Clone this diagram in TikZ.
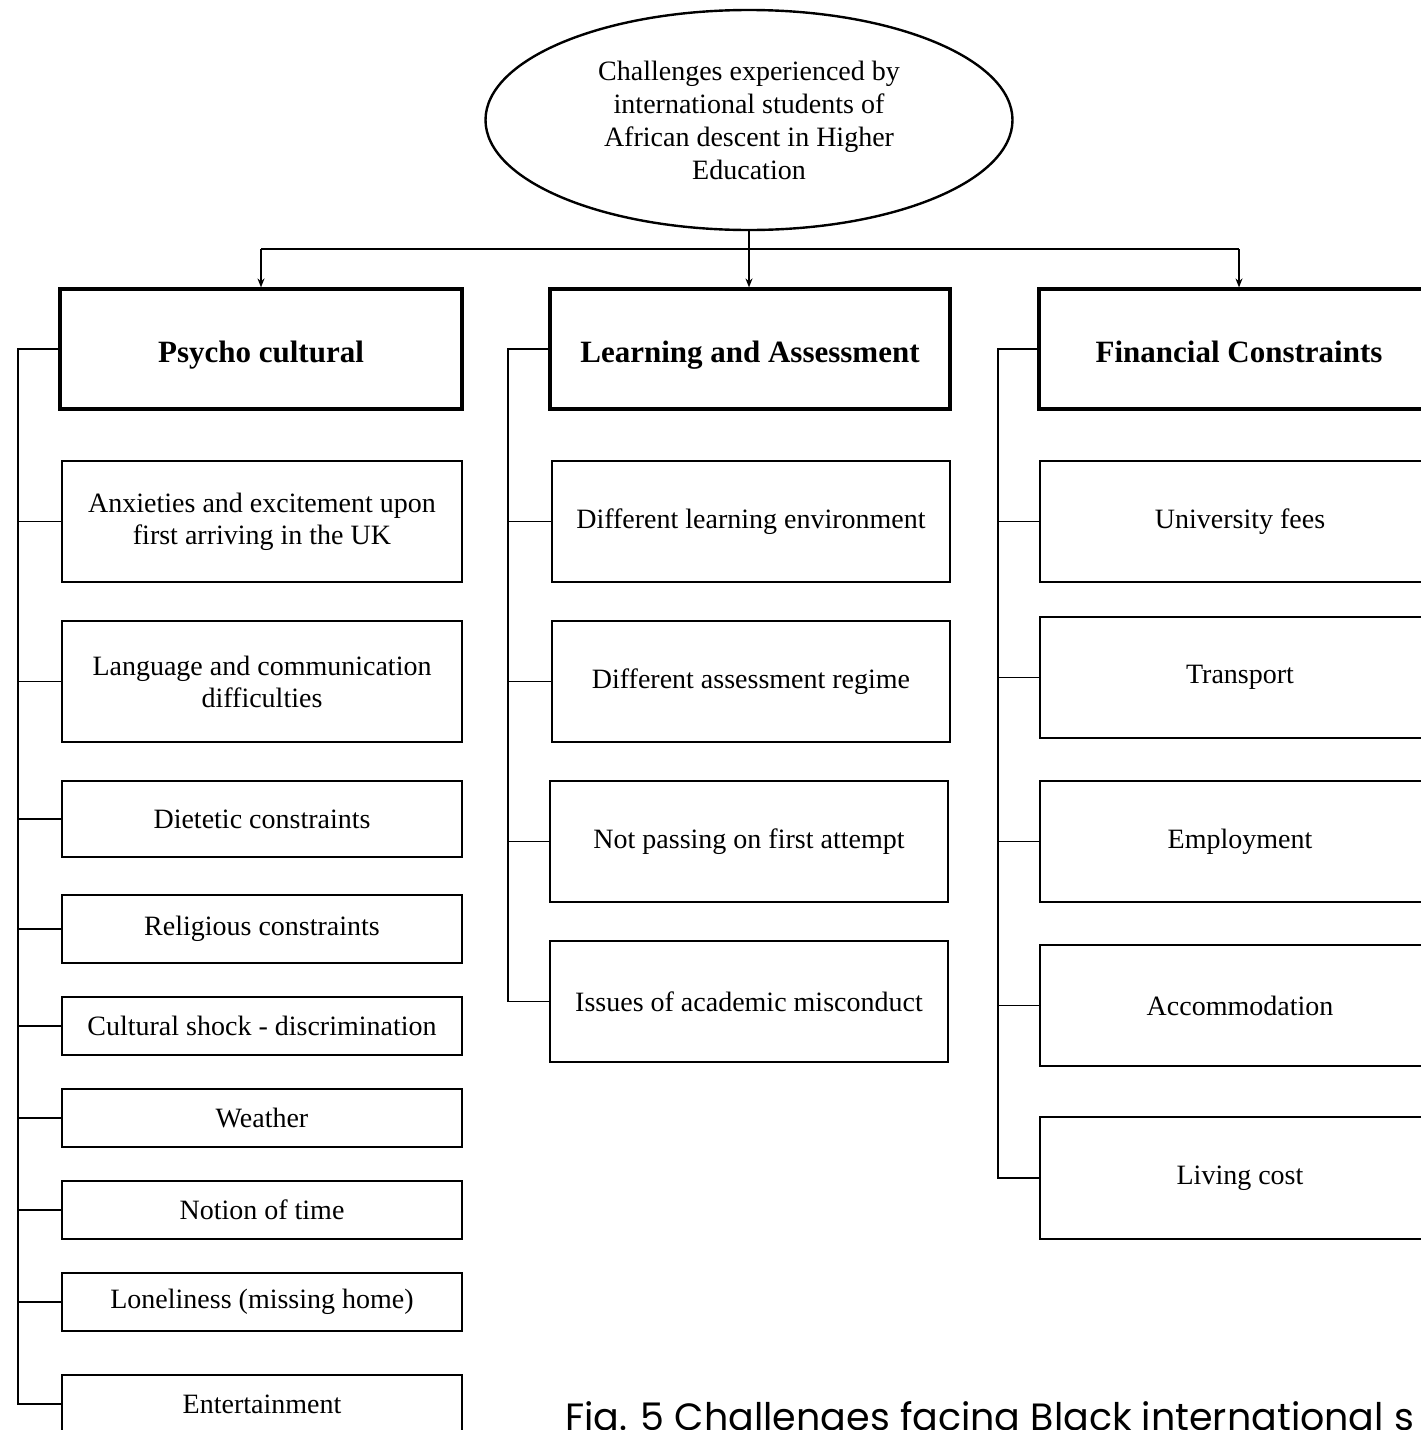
\documentclass[tikz,border=0pt]{standalone}
\usepackage{fontspec}
\setmainfont{Liberation Serif}
\newfontfamily\capfont{Poppins}
\usetikzlibrary{arrows.meta,shapes.geometric}
\begin{document}
\begin{tikzpicture}[x=1pt,y=-1pt,
  every node/.style={inner sep=0pt, font=\fontsize{28}{32}\selectfont, align=center},
  hdr/.style={draw, line width=3.2pt, minimum width=400pt, minimum height=120pt, text height=26pt, text depth=0pt, font=\fontsize{31}{34}\selectfont\bfseries},
  item/.style={draw, line width=1.6pt, minimum width=400pt},
  link/.style={line width=1.5pt},
  arr/.style={line width=1.5pt, -{Stealth[length=9pt,width=7pt]}}
]
\useasboundingbox (0,0) rectangle (1421,1430);
\clip (0,0) rectangle (1421,1430);
\fill[white] (0,0) rectangle (1421,1430);

% root
\node[ellipse, draw, line width=2.4pt, minimum width=527pt, minimum height=220pt, font=\fontsize{28}{33}\selectfont] (root) at (749,120)
  {Challenges experienced by\\international students of\\African descent in Higher\\Education};

% headers
\node[hdr, minimum width=402pt] (psy) at (261,349) {Psycho cultural};
\node[hdr] (lea) at (750,349) {Learning and Assessment};
\node[hdr] (fin) at (1239,349) {Financial Constraints};

\coordinate (bar) at (749,249);
\draw[link] (root.south) -- (bar);
\draw[link] (psy.north |- bar) -- (fin.north |- bar);
\draw[arr] (psy.north |- bar) -- (psy.north);
\draw[arr] (bar) -- (bar |- lea.north);
\draw[arr] (fin.north |- bar) -- (fin.north);

% left column
\node[item, minimum height=121pt] (anx) at (262,521.5) {Anxieties and excitement upon\\first arriving in the UK};
\node[item, minimum height=121pt] (lang) at (262,681.5) {Language and communication\\difficulties};
\node[item, minimum height=76pt] (diet) at (262,819) {Dietetic constraints};
\node[item, minimum height=68pt] (rel) at (262,929) {Religious constraints};
\node[item, minimum height=58pt] (cult) at (262,1026) {Cultural shock - discrimination};
\node[item, minimum height=58pt] (weat) at (262,1118) {Weather};
\node[item, minimum height=58pt] (time) at (262,1210) {Notion of time};
\node[item, minimum height=58pt] (lone) at (262,1302) {Loneliness (missing home)};
\node[item, minimum height=58pt] (ent) at (262,1404) {Entertainment};

\coordinate (lb) at (18,0);
\draw[link] (psy.west) -- (psy.west -| lb) |- (ent.west);
\foreach \n in {anx,lang,diet,rel,cult,weat,time,lone}
  \draw[link] (\n.west) -- (\n.west -| lb);

% middle column
\node[item, minimum width=398pt, minimum height=121pt] (dle) at (751,521.5) {Different learning environment};
\node[item, minimum width=398pt, minimum height=121pt] (dar) at (751,681.5) {Different assessment regime};
\node[item, minimum width=398pt, minimum height=121pt] (npf) at (749,841.5) {Not passing on first attempt};
\node[item, minimum width=398pt, minimum height=121pt] (iam) at (749,1001.5) {Issues of academic misconduct};

\coordinate (mb) at (508,0);
\draw[link] (lea.west) -- (lea.west -| mb) |- (iam.west);
\foreach \n in {dle,dar,npf}
  \draw[link] (\n.west) -- (\n.west -| mb);

% right column
\node[item, minimum height=121pt] (fees) at (1240,521.5) {University fees};
\node[item, minimum height=121pt] (trans) at (1240,677.5) {Transport};
\node[item, minimum height=121pt] (emp) at (1240,841.5) {Employment};
\node[item, minimum height=121pt] (acc) at (1240,1005.5) {Accommodation};
\node[item, minimum height=122pt] (liv) at (1240,1178) {Living cost};

\coordinate (rb) at (998,0);
\draw[link] (fin.west) -- (fin.west -| rb) |- (liv.west);
\foreach \n in {fees,trans,emp,acc}
  \draw[link] (\n.west) -- (\n.west -| rb);

% caption
\node[anchor=base west, font=\capfont\fontsize{38}{44}\selectfont] (cap) at (565,1430) {Fig. 5 Challenges facing Black international s};
\end{tikzpicture}
\end{document}
